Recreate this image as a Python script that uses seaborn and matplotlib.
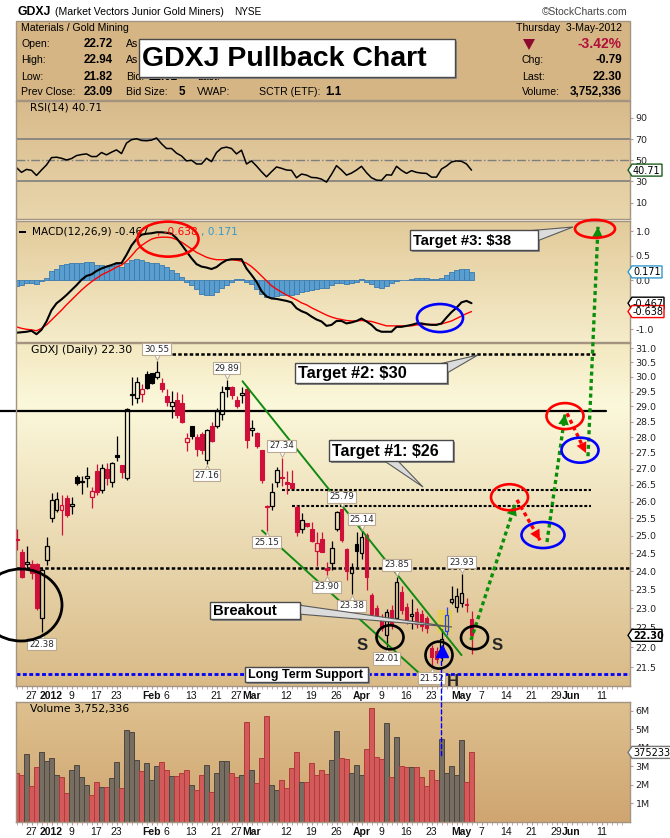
import numpy as np
import pandas as pd
import matplotlib
matplotlib.use("Agg")
import matplotlib.pyplot as plt
import seaborn as sns
from matplotlib.patches import Rectangle, Ellipse, Polygon, ConnectionPatch
from matplotlib.transforms import Affine2D, offset_copy
from matplotlib.colors import LinearSegmentedColormap
from matplotlib.ticker import FixedLocator, NullLocator

sns.set_style("white")
plt.rcParams["font.family"] = ["DejaVu Sans"]

# ---------------- trading calendar ----------------
holidays = ["2011-12-26", "2012-01-02", "2012-01-16", "2012-02-20", "2012-04-06", "2012-05-28"]
sessions = pd.bdate_range("2011-12-21", "2012-06-15")
sessions = sessions[~sessions.isin(pd.to_datetime(holidays))]

# ---------------- daily GDXJ candles ----------------
opens = [24.92, 24.55, 24.20, 24.20, 24.20, 22.76, 24.30, 25.50, 25.75, 25.75,
         26.10, 25.87, 26.75, 26.58, 26.72, 26.15, 26.92, 26.35, 27.00, 26.58,
         27.42, 27.10, 26.70, 29.38, 29.27, 29.40, 30.09, 30.12, 29.98, 29.78,
         29.35, 29.00, 29.20, 29.10, 27.84, 28.35, 28.00, 28.10, 27.27, 28.37,
         28.37, 28.76, 29.64, 29.64, 29.20, 29.38, 29.58, 28.22, 28.12, 27.58,
         25.88, 25.88, 26.60, 26.75, 26.58, 26.55, 25.85, 25.18, 25.36, 25.18,
         24.58, 24.90, 24.08, 24.24, 25.20, 25.78, 24.62, 23.95, 24.76, 24.50,
         25.02, 23.35, 23.00, 22.73, 22.32, 22.95, 22.76, 23.45, 23.05, 22.80,
         22.90, 22.85, 22.75, 21.97, 21.90, 21.75, 22.40, 23.18, 23.05, 23.15,
         23.12, 22.72]
highs = [25.19, 24.62, 24.70, 24.30, 24.22, 24.10, 24.95, 26.25, 26.30, 26.20,
         26.20, 26.15, 26.80, 26.78, 27.05, 26.45, 27.15, 27.15, 27.17, 27.20,
         28.02, 27.12, 28.95, 29.98, 30.00, 29.74, 30.20, 30.15, 30.55, 29.95,
         29.60, 29.52, 29.50, 29.40, 28.14, 28.37, 28.10, 28.15, 28.25, 28.50,
         28.95, 29.70, 29.89, 29.70, 29.35, 29.65, 29.70, 28.55, 28.15, 27.60,
         25.90, 26.55, 27.05, 27.34, 26.92, 26.95, 25.90, 25.65, 25.38, 25.40,
         25.10, 25.10, 24.25, 24.84, 25.72, 25.79, 24.65, 24.22, 25.10, 25.14,
         25.07, 23.40, 23.10, 22.85, 22.98, 23.10, 23.85, 23.60, 23.15, 23.25,
         23.00, 22.95, 22.80, 22.05, 22.00, 22.45, 23.05, 23.60, 23.55, 23.93,
         23.27, 22.94]
lows = [24.59, 23.82, 24.05, 23.80, 22.95, 22.38, 24.18, 25.40, 25.70, 25.02,
        25.55, 25.62, 26.50, 26.22, 26.45, 25.80, 26.20, 26.25, 26.50, 26.45,
        27.25, 26.72, 26.65, 29.04, 29.10, 29.14, 29.60, 29.75, 29.93, 29.48,
        29.00, 28.62, 28.62, 28.45, 27.56, 27.92, 27.40, 27.45, 27.16, 27.85,
        28.30, 28.55, 29.30, 29.25, 28.95, 29.10, 27.66, 28.02, 27.65, 26.55,
        25.15, 25.75, 26.45, 26.47, 26.22, 26.40, 24.98, 25.08, 25.25, 24.82,
        24.14, 24.53, 23.90, 24.05, 25.15, 24.82, 23.77, 23.38, 24.13, 24.35,
        23.50, 22.78, 22.70, 22.40, 22.01, 22.45, 22.70, 22.85, 22.60, 22.45,
        22.50, 22.42, 22.35, 21.52, 21.60, 21.65, 22.32, 23.12, 22.90, 23.05,
        22.90, 21.82]
closes = [24.87, 23.85, 24.26, 23.95, 23.00, 24.05, 24.70, 26.05, 26.08, 25.90,
          25.60, 25.93, 26.55, 26.62, 26.78, 26.32, 26.28, 27.02, 26.70, 27.17,
          27.38, 26.90, 28.90, 29.42, 29.83, 29.60, 29.63, 29.80, 30.18, 29.58,
          29.14, 29.16, 28.70, 28.50, 27.97, 28.02, 27.62, 27.58, 28.22, 27.87,
          28.85, 29.50, 29.58, 29.37, 29.00, 29.46, 27.90, 28.30, 27.70, 26.65,
          25.85, 26.30, 26.97, 26.70, 26.52, 26.42, 25.10, 25.45, 25.27, 24.85,
          24.80, 24.55, 24.04, 24.64, 25.70, 24.88, 24.00, 24.13, 24.58, 24.95,
          23.85, 22.85, 22.76, 22.50, 22.90, 22.60, 23.70, 22.95, 22.70, 22.86,
          22.60, 22.55, 22.50, 21.75, 21.70, 22.20, 22.82, 23.25, 23.33, 23.40,
          23.09, 22.30]
prior_close = 25.10

# daily volume, millions of shares
volume_m = [2.62, 2.53, 3.65, 1.93, 2.94, 3.75, 3.27, 3.43, 2.53, 2.40,
            1.54, 2.83, 3.10, 2.45, 1.99, 1.45, 2.18, 1.87, 1.87, 2.35,
            3.21, 1.81, 4.95, 4.84, 3.32, 2.73, 3.16, 2.29, 3.00, 3.21,
            2.78, 2.47, 2.47, 2.62, 2.78, 2.02, 1.75, 2.56, 3.10, 1.64,
            2.62, 3.27, 3.27, 2.62, 2.45, 2.51, 5.38, 2.78, 2.08, 3.43,
            5.70, 2.02, 1.70, 2.24, 1.81, 2.89, 3.75, 2.13, 2.18, 3.16,
            2.56, 2.78, 2.60, 3.32, 4.89, 3.43, 3.38, 2.62, 3.10, 2.56,
            3.92, 6.14, 3.48, 3.38, 5.32, 2.45, 4.57, 3.00, 2.94, 2.94,
            2.94, 2.45, 1.93, 2.83, 2.29, 4.46, 2.62, 3.00, 2.53, 4.40,
            2.18, 3.752336]

rsi14 = [43.0, 38.6, 41.4, 40.5, 35.7, 40.8, 45.6, 52.5, 52.9, 51.9,
         50.3, 51.6, 54.4, 55.4, 56.0, 53.5, 53.5, 57.3, 55.1, 57.6,
         59.8, 56.3, 66.2, 69.4, 70.3, 68.7, 68.4, 69.0, 71.0, 65.6,
         61.1, 61.1, 56.7, 54.1, 49.4, 50.0, 46.5, 46.5, 51.9, 48.7,
         57.3, 61.4, 62.4, 61.1, 56.0, 59.5, 46.5, 49.4, 44.6, 39.2,
         34.4, 39.2, 43.7, 42.4, 40.8, 40.5, 33.5, 37.0, 36.0, 33.8,
         33.5, 32.2, 29.4, 36.7, 44.9, 40.8, 36.0, 37.9, 40.8, 44.3,
         38.3, 33.5, 31.3, 31.0, 36.3, 36.0, 44.3, 40.5, 37.6, 40.2,
         38.6, 37.9, 37.6, 34.1, 34.1, 41.7, 44.6, 48.4, 49.4, 49.0,
         46.5, 40.71]

macd_line = [-1.07, -1.06, -1.05, -1.03, -1.10, -1.01, -0.84, -0.61, -0.47, -0.39,
             -0.30, -0.20, -0.10, 0.01, 0.09, 0.12, 0.19, 0.24, 0.28, 0.31,
             0.35, 0.35, 0.52, 0.71, 0.84, 0.93, 0.95, 0.96, 0.98, 0.98,
             0.97, 0.95, 0.86, 0.73, 0.59, 0.45, 0.33, 0.28, 0.26, 0.23,
             0.27, 0.35, 0.41, 0.43, 0.43, 0.43, 0.24, 0.11, -0.03, -0.22,
             -0.33, -0.37, -0.38, -0.40, -0.42, -0.45, -0.57, -0.63, -0.67, -0.74,
             -0.80, -0.84, -0.93, -0.91, -0.83, -0.83, -0.88, -0.86, -0.83, -0.78,
             -0.84, -0.91, -1.01, -1.05, -1.05, -1.05, -0.95, -0.95, -0.93, -0.91,
             -0.88, -0.88, -0.90, -0.91, -0.91, -0.88, -0.76, -0.65, -0.56, -0.45,
             -0.42, -0.467]
macd_signal = [-0.95, -0.98, -1.00, -1.01, -1.03, -0.98, -0.91, -0.81, -0.71, -0.61,
               -0.50, -0.40, -0.30, -0.20, -0.11, -0.03, 0.04, 0.11, 0.16, 0.21,
               0.27, 0.31, 0.39, 0.50, 0.62, 0.71, 0.78, 0.84, 0.87, 0.88,
               0.88, 0.87, 0.83, 0.78, 0.71, 0.64, 0.57, 0.52, 0.47, 0.44,
               0.42, 0.42, 0.42, 0.42, 0.41, 0.39, 0.35, 0.28, 0.19, 0.09,
               -0.01, -0.11, -0.18, -0.24, -0.30, -0.35, -0.40, -0.46, -0.50, -0.56,
               -0.61, -0.66, -0.71, -0.75, -0.78, -0.80, -0.82, -0.83, -0.83, -0.82,
               -0.83, -0.84, -0.87, -0.90, -0.93, -0.93, -0.93, -0.93, -0.93, -0.93,
               -0.91, -0.91, -0.90, -0.90, -0.90, -0.89, -0.86, -0.83, -0.78, -0.73,
               -0.68, -0.638]
macd_hist = [-0.11, -0.10, -0.06, -0.05, -0.08, -0.01, 0.04, 0.18, 0.24, 0.31,
             0.34, 0.35, 0.36, 0.36, 0.38, 0.37, 0.31, 0.31, 0.28, 0.30,
             0.33, 0.28, 0.35, 0.41, 0.44, 0.41, 0.38, 0.36, 0.35, 0.31,
             0.28, 0.21, 0.14, 0.07, -0.03, -0.10, -0.18, -0.27, -0.29, -0.29,
             -0.24, -0.16, -0.10, -0.03, 0.02, 0.02, -0.03, -0.08, -0.18, -0.27,
             -0.35, -0.35, -0.33, -0.30, -0.30, -0.29, -0.27, -0.24, -0.22, -0.20,
             -0.18, -0.16, -0.15, -0.10, -0.06, -0.06, -0.08, -0.06, -0.03, 0.03,
             -0.03, -0.08, -0.13, -0.15, -0.11, -0.06, -0.01, 0.00, 0.01, 0.03,
             0.04, 0.05, 0.04, 0.02, 0.02, 0.04, 0.11, 0.16, 0.21, 0.24,
             0.24, 0.171]

# x-axis labels
tick_dates = ["2011-12-27", "2012-01-03", "2012-01-09", "2012-01-17", "2012-01-23",
              "2012-02-01", "2012-02-06", "2012-02-13", "2012-02-21", "2012-02-27",
              "2012-03-01", "2012-03-12", "2012-03-19", "2012-03-26", "2012-04-02",
              "2012-04-09", "2012-04-16", "2012-04-23", "2012-05-01", "2012-05-07",
              "2012-05-14", "2012-05-21", "2012-05-29", "2012-06-01", "2012-06-11"]
tick_text = ["27", "2012", "9", "17", "23", "Feb", "6", "13", "21", "27", "Mar", "12",
             "19", "26", "Apr", "9", "16", "23", "May", "7", "14", "21", "29", "Jun", "11"]
bold_ticks = {"2012", "Feb", "Mar", "Apr", "May", "Jun"}

# chart levels
level_target2 = 30.80
level_resistance = 28.85
level_target1 = 26.35
level_target1_low = 25.86
level_neckline = 24.08
level_support = 21.33

# labelled highs / lows
marked_highs = [28, 42, 53, 65, 69, 76, 89]
marked_lows = [5, 38, 50, 62, 67, 74, 83]

# drawn trend channel and projected path (session index, price)
trend_upper = ([45.2, 89.0], [29.85, 21.80])
trend_lower = ([49.1, 83.0], [25.15, 21.08])
path_up = [((90.9, 22.18), (99.7, 25.90)), ((106.1, 24.82), (109.7, 28.74)),
           ((114.3, 27.39), (116.3, 35.64))]
path_down = [((100.1, 26.05), (104.7, 24.87)), ((110.1, 28.77), (113.9, 27.49))]

# ---------------- figure scaffolding ----------------
W, H = 670, 838
fig = plt.figure(figsize=(W / 100, H / 100), dpi=100)
fig.patch.set_facecolor("white")
PX = Affine2D().scale(1 / W, -1 / H).translate(0, 1) + fig.transFigure

RED = "#D0103A"
FRAME = "#A39482"
XL = (-0.1, 122.7)
SANS = "Liberation Sans"

o = np.array(opens); h = np.array(highs); l = np.array(lows); c = np.array(closes)
n = len(c)
xi = np.arange(n)
prev = np.concatenate([[prior_close], c[:-1]])
down = c < prev
tick_pos = [sessions.get_loc(pd.Timestamp(d)) for d in tick_dates]


def frac(x0, y0, x1, y1):
    return [x0 / W, 1 - y1 / H, (x1 - x0) / W, (y1 - y0) / H]


def gradient(box, stops):
    bg = fig.add_axes(frac(*box), zorder=0)
    cmap = LinearSegmentedColormap.from_list("bg", stops)
    bg.imshow(np.linspace(0, 1, 256)[:, None], aspect="auto", cmap=cmap,
              extent=(0, 1, 0, 1))
    bg.set_axis_off()


def panel(box, stops):
    gradient(box, stops)
    ax = fig.add_axes(frac(*box), zorder=1)
    ax.set_facecolor("none")
    for s in ax.spines.values():
        s.set_color(FRAME)
        s.set_linewidth(1.0)
        s.set_visible(True)
    ax.yaxis.tick_right()
    ax.tick_params(axis="y", which="both", right=True, left=False, labelsize=6.8,
                   length=2, pad=2, color="#B89898", labelcolor="#222222")
    ax.tick_params(axis="x", which="both", bottom=False, labelbottom=False)
    return ax


def date_axis(ax):
    ax.set_xlim(*XL)
    ax.xaxis.set_major_locator(FixedLocator(tick_pos))
    ax.set_xticklabels(tick_text)
    ax.xaxis.set_minor_locator(FixedLocator(np.arange(len(sessions))))
    ax.tick_params(axis="x", which="both", bottom=True, labelbottom=True, length=2,
                   pad=1.5, color="#B89898", labelsize=7.5, labelcolor="#111111")
    for lbl in ax.get_xticklabels():
        lbl.set_fontfamily(SANS)
        if lbl.get_text() in bold_ticks:
            lbl.set_fontweight("bold")


def ptext(x, y, s, size=7.6, weight="normal", color="black", ha="left", va="center",
          family=SANS, z=10):
    fig.text(x / W, 1 - y / H, s, fontsize=size, fontweight=weight, color=color,
             ha=ha, va=va, family=family, zorder=z)


def to_px(ax, x, y):
    d = ax.transData.transform((x, y))
    return d[0], H - d[1]


def ring(ax, x, y, w, hgt, color, lw=1.9):
    cx, cy = to_px(ax, x, y)
    fig.add_artist(Ellipse((cx, cy), w, hgt, transform=PX, fill=False, ec=color,
                           lw=lw, zorder=15))


def value_tag(ax, value, text, edge, bold=False, width=30):
    _, py = to_px(ax, XL[1], value)
    px = 628
    pts = [(px, py), (px + 4, py - 6), (px + 4 + width, py - 6),
           (px + 4 + width, py + 6), (px + 4, py + 6)]
    fig.add_artist(Polygon(pts, closed=True, transform=PX, fc="white", ec=edge,
                           lw=1.0, zorder=20))
    ptext(px + 5, py + 0.5, text, size=7, weight="bold" if bold else "normal",
          family="DejaVu Sans", z=21)


def callout(x0, y0, x1, y1, text, size, wedge=None, shadow=True):
    if shadow:
        fig.add_artist(Rectangle((x0 + 2, y0 + 2), x1 - x0, y1 - y0, transform=PX,
                                 fc="#8A8A8A", ec="none", zorder=24))
    if wedge is not None:
        fig.add_artist(Polygon(wedge, closed=True, transform=PX, fc="#DCDCDC",
                               ec="#5A5A5A", lw=0.8, zorder=25))
    fig.add_artist(Rectangle((x0, y0), x1 - x0, y1 - y0, transform=PX, fc="white",
                             ec="#4A4A4A", lw=1.0, zorder=26))
    ptext(x0 + 3, (y0 + y1) / 2 + 0.5, text, size=size, weight="bold", z=27)


def dotted_arrow(ax, p0, p1, color):
    (x0, y0), (x1, y1) = p0, p1
    ax.plot([x0, x1], [y0, y1], color=color, lw=2.4, ls=(0, (1.2, 1.0)),
            clip_on=False, zorder=9)
    xm = x1 - 0.15 * (x1 - x0)
    ym = np.exp(np.log(y1) - 0.15 * (np.log(y1) - np.log(y0)))
    ax.annotate("", xy=(x1, y1), xytext=(xm, ym), annotation_clip=False, zorder=10,
                arrowprops=dict(arrowstyle="-|>,head_length=0.75,head_width=0.38",
                                color=color, lw=0.01, shrinkA=0, shrinkB=0))


# ---------------- title row & quote header ----------------
ptext(17, 12, "GDXJ", size=8.8, weight="bold")
ptext(55, 12, "(Market Vectors Junior Gold Miners)", size=7.6)
ptext(234, 12, "NYSE", size=7.2)
ptext(628, 12, "\u00a9StockCharts.com", size=7.4, color="#444444", ha="right")

fig.add_artist(Rectangle((16, 21), 614, 79, transform=PX, fc="#D6B584", ec=FRAME,
                         lw=1.0, zorder=2))
rows = [28.3, 44, 60, 76.7, 91.7]
ptext(21, rows[0], "Materials / Gold Mining")
for y, lab, val in zip(rows[1:], ["Open:", "High:", "Low:", "Prev Close:"],
                       ["22.72", "22.94", "21.82", "23.09"]):
    ptext(21, y, lab)
    ptext(113, y, val, size=8.4, weight="bold", ha="right")
ptext(126, rows[1], "As")
ptext(126, rows[2], "As")
ptext(126, rows[3], "Bid:")
ptext(178, rows[3], "22.02", size=8.4, weight="bold", ha="right")
ptext(197, rows[3], "Last:")
ptext(126, rows[4], "Bid Size:")
ptext(185, rows[4], "5", size=8.4, weight="bold", ha="right")
ptext(197, rows[4], "VWAP:")
ptext(259, rows[4], "SCTR (ETF):")
ptext(325, rows[4], "1.1", size=8.4, weight="bold")
ptext(622, rows[0], "Thursday  3-May-2012", ha="right")
fig.add_artist(Polygon([(523, 39), (535, 39), (529, 50)], closed=True, transform=PX,
                       fc="#8C0A2E", ec="none", zorder=11))
ptext(622, rows[1], "-3.42%", size=10, weight="bold", color="#B0103A", ha="right")
ptext(522, rows[2], "Chg:")
ptext(622, rows[2], "-0.79", size=8.4, weight="bold", ha="right")
ptext(522, rows[3], "Last:")
ptext(622, rows[3], "22.30", size=8.4, weight="bold", ha="right")
ptext(522, rows[4], "Volume:")
ptext(622, rows[4], "3,752,336", size=8.4, weight="bold", ha="right")

# ---------------- RSI panel ----------------
ax_r = panel((16, 101, 630, 219), ["#D8BA8B", "#E9D6AC"])
ax_r.axhline(70, color="#7E7E7E", lw=1.2, zorder=1)
ax_r.axhline(30, color="#7E7E7E", lw=1.2, zorder=1)
ax_r.axhline(50, color="#7E7E7E", lw=1.0, ls="-.", zorder=1)
sns.lineplot(x=xi, y=np.array(rsi14), ax=ax_r, color="black", linewidth=1.1)
ax_r.set(xlabel="", ylabel="")
ax_r.set_xlim(*XL)
ax_r.set_ylim(-5.4, 105.9)
ax_r.set_yticks([10, 30, 50, 70, 90])
ax_r.tick_params(axis="x", which="both", bottom=False, labelbottom=False)
ptext(30, 107.5, "RSI(14) 40.71", size=7.6, family="DejaVu Sans", z=12)

# ---------------- MACD panel ----------------
ax_m = panel((16, 221, 630, 342), ["#E2CA99", "#F5ECCA"])
ax_m.bar(xi, macd_hist, width=1.0, color="#5A9DCF", edgecolor="#3A7AAD", lw=0.6,
         zorder=2)
sns.lineplot(x=xi, y=np.array(macd_signal), ax=ax_m, color="#FF0000", linewidth=1.0)
sns.lineplot(x=xi, y=np.array(macd_line), ax=ax_m, color="black", linewidth=1.5)
ax_m.set(xlabel="", ylabel="")
ax_m.set_xlim(*XL)
ax_m.set_ylim(-1.259, 1.21)
ax_m.set_yticks([-1.0, 0.0, 0.5, 1.0])
ax_m.set_yticklabels(["-1.0", "0.0", "0.5", "1.0"])
ax_m.tick_params(axis="x", which="both", bottom=False, labelbottom=False)
fig.add_artist(Rectangle((19, 231), 7, 2, transform=PX, fc="black", ec="none", zorder=12))
ptext(32, 232, f"MACD(12,26,9) {macd_line[-1]:.3f}", size=7.6, family="DejaVu Sans", z=12)
ptext(157, 232, f", {macd_signal[-1]:.3f}", size=7.6, family="DejaVu Sans",
      color="#FF0000", z=12)
ptext(201, 232, f", {macd_hist[-1]:.3f}", size=7.6, family="DejaVu Sans",
      color="#3399CC", z=12)

# ---------------- price panel ----------------
ax_p = panel((16, 343, 630, 686), [(0.0, "#F3E8C0"), (0.18, "#FBF8DB"), (1.0, "#D9BA87")])
ax_p.set_yscale("log")
ax_p.set_ylim(21.04, 31.19)
yt = np.arange(21.5, 31.01, 0.5)
ax_p.yaxis.set_major_locator(FixedLocator(yt))
ax_p.yaxis.set_minor_locator(NullLocator())
ax_p.set_yticklabels([f"{v:.1f}" for v in yt])
date_axis(ax_p)

col = np.where(down, RED, "black").astype(object)
col[86] = "#1F3FFF"
top = np.maximum(o, c)
bot = np.minimum(o, c)
body = np.maximum(top - bot, 0.015)
for i in range(n):
    ax_p.vlines(i, top[i], h[i], color=col[i], lw=0.9, zorder=3)
    ax_p.vlines(i, l[i], bot[i], color=col[i], lw=0.9, zorder=3)
filled = c < o
ax_p.bar(xi[filled], body[filled], bottom=bot[filled], width=0.8,
         color=list(col[filled]), edgecolor=list(col[filled]), lw=0.8, zorder=3)
ax_p.bar(xi[~filled], body[~filled], bottom=bot[~filled], width=0.8,
         facecolor="none", edgecolor=list(col[~filled]), lw=0.9, zorder=3)

# levels
dash = (0, (1.4, 0.9))
ax_p.plot([31.1, 115.7], [level_target2] * 2, color="black", lw=1.8, ls=dash, zorder=2)
ax_p.plot([-3.3, 117.9], [level_resistance] * 2, color="black", lw=1.6, clip_on=False,
          zorder=2)
ax_p.plot([53.1, 114.9], [level_target1] * 2, color="black", lw=1.5, ls=dash, zorder=2)
ax_p.plot([55.1, 114.9], [level_target1_low] * 2, color="black", lw=1.5, ls=dash, zorder=2)
ax_p.plot(list(XL), [level_neckline] * 2, color="black", lw=1.8, ls=dash, zorder=2)
ax_p.plot(list(XL), [level_support] * 2, color="#0000FF", lw=2.0, ls=dash, zorder=2)

# trend channel
ax_p.plot(*trend_upper, color="#118A11", lw=1.4, zorder=4)
ax_p.plot(*trend_lower, color="#118A11", lw=1.4, zorder=4)

# breakout candle highlight
ax_p.add_patch(Rectangle((84.1, 22.37), 3.0, 0.58, fc="#E6CF55", ec="none", alpha=0.85,
                         zorder=2.5))
ax_p.plot(85, 21.9, marker="^", color="#0000FF", ms=8, zorder=8)

# high / low value labels with small pointers
for i in marked_highs + marked_lows:
    is_high = i in marked_highs
    v = h[i] if is_high else l[i]
    ax_p.annotate(f"{v:.2f}", xy=(i, v), xytext=(0, 8.5 if is_high else -8.5),
                  textcoords="offset points", ha="center", va="center", fontsize=6.3,
                  zorder=7, annotation_clip=False,
                  bbox=dict(boxstyle="square,pad=0.18", fc="white", ec="#BBAA92", lw=0.8))
    tr = offset_copy(ax_p.transData, fig=fig, x=0, y=3.0 if is_high else -3.0,
                     units="points")
    ax_p.plot(i, v, marker="v" if is_high else "^", ms=4.5, mfc="white", mec="#BBAA92",
              mew=0.7, transform=tr, zorder=6.9, clip_on=False)

# projected path
for p0, p1 in path_up:
    dotted_arrow(ax_p, p0, p1, "#0A8F0A")
for p0, p1 in path_down:
    dotted_arrow(ax_p, p0, p1, "#FF0000")

for x, y, s in [(69.1, 22.05, "S"), (96.1, 22.05, "S"), (87.3, 21.14, "H")]:
    ax_p.text(x, y, s, fontsize=12, fontweight="bold", family=SANS, ha="center",
              va="center", zorder=8, clip_on=False)

ptext(31, 350, f"GDXJ (Daily) {closes[-1]:.2f}", size=7.8, family="DejaVu Sans", z=12)

# ---------------- volume panel ----------------
ax_v = panel((16, 702, 630, 822), ["#DEC18F", "#CFA570"])
vface = np.where(down, "#D35A5A", "#776D61")
vedge = np.where(down, "#B23A3A", "#4E4740")
ax_v.bar(xi, volume_m, width=1.0, color=list(vface), edgecolor=list(vedge), lw=0.7,
         zorder=2)
ax_v.set_ylim(0, 6.47)
ax_v.set_yticks([1, 2, 3, 4, 5, 6])
ax_v.set_yticklabels([f"{k}M" for k in range(1, 7)])
date_axis(ax_v)
ptext(30, 709, f"Volume {volume_m[-1] * 1e6:,.0f}", size=7.8, family="DejaVu Sans", z=12)

con = ConnectionPatch(xyA=(85, 21.82), coordsA="data", axesA=ax_p,
                      xyB=(85, 3.5), coordsB="data", axesB=ax_v,
                      color="#0000FF", lw=1.0, ls=(0, (3, 2)), zorder=12)
fig.add_artist(con)

# ---------------- rings ----------------
ring(ax_p, 0.9, 23.09, 82, 72, "black", lw=2.0)
ring(ax_p, 98.6, 26.13, 37, 26, "#FF0000")
ring(ax_p, 105.3, 25.02, 43, 26, "#0000FF")
ring(ax_p, 109.7, 28.68, 37, 26, "#FF0000")
ring(ax_p, 112.7, 27.58, 37, 25, "#0000FF")
ring(ax_p, 74.7, 22.25, 27, 24, "black")
ring(ax_p, 84.5, 21.80, 27, 27, "black")
ring(ax_p, 91.6, 22.24, 27, 23, "black")
ring(ax_m, 30.3, 0.84, 61, 35, "#FF0000")
ring(ax_m, 84.7, -0.77, 46, 28, "#0000FF")
ring(ax_m, 115.7, 1.05, 40, 18, "#FF0000")

# ---------------- last-value tags ----------------
value_tag(ax_r, rsi14[-1], f"{rsi14[-1]:.2f}", "#1E5E1E")
value_tag(ax_m, macd_hist[-1], f"{macd_hist[-1]:.3f}", "#3399CC")
value_tag(ax_m, macd_line[-1], f"{macd_line[-1]:.3f}", "black", width=32)
value_tag(ax_m, macd_signal[-1], f"{macd_signal[-1]:.3f}", "#FF0000", width=32)
value_tag(ax_p, closes[-1], f"{closes[-1]:.2f}", "black", bold=True)
value_tag(ax_v, volume_m[-1], f"{volume_m[-1] * 1e6:.0f}", "#777777", width=44)

# ---------------- callouts ----------------
callout(139, 39, 455, 77, "GDXJ Pullback Chart", 20.5)
callout(410, 230, 538, 250, "Target #3: $38", 10.6,
        wedge=[(526, 231), (537, 241), (573, 227)])
callout(295, 363, 447, 383, "Target #2: $30", 11.8,
        wedge=[(439, 364), (447, 373), (478, 355)])
callout(329, 440, 453, 461, "Target #1: $26", 11.5,
        wedge=[(383, 460), (397, 460), (423, 487)])
callout(210, 602, 300, 619, "Breakout", 10.6,
        wedge=[(298, 605), (298, 614), (452, 627)])
callout(245, 667, 368, 682, "Long Term Support", 9.0)

fig.savefig("out.png", dpi=100)
